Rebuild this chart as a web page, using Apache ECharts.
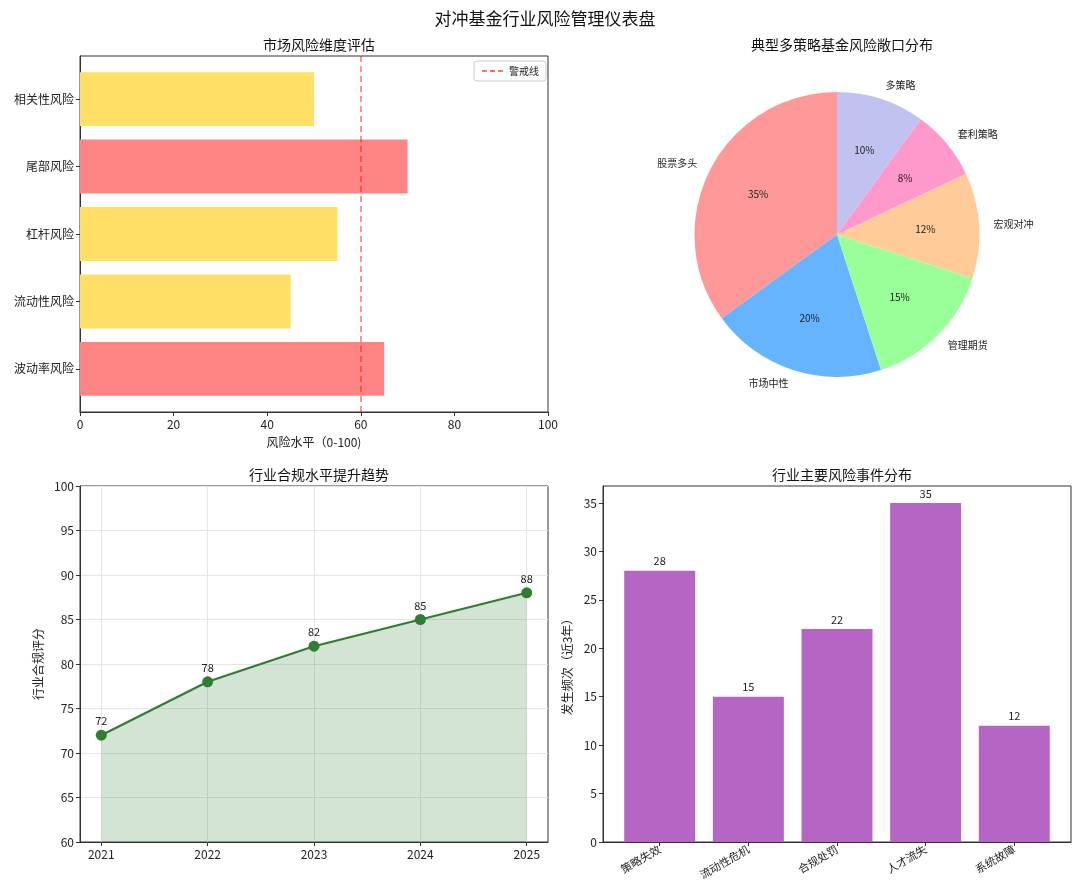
<!DOCTYPE html>
<html><head><meta charset="utf-8">
<script src="https://cdn.jsdelivr.net/npm/echarts@6/dist/echarts.min.js"></script>
<style>html,body{margin:0;padding:0;background:#fff}#c{width:1080px;height:895px}</style>
</head><body><div id="c"></div>
<script>
// ---- data ----
const riskCategories = ['波动率风险','流动性风险','杠杆风险','尾部风险','相关性风险'];
const riskValues = [65, 45, 55, 70, 50];
const warningLevel = 60;

const pieNames = ['股票多头','市场中性','管理期货','宏观对冲','套利策略','多策略'];
const pieValues = [35, 20, 15, 12, 8, 10];
const pieColors = ['#ff9999','#66b3ff','#99ff99','#ffcc99','#ff99cc','#c2c2f0'];

const years = [2021, 2022, 2023, 2024, 2025];
const complianceScores = [72, 78, 82, 85, 88];

const eventCategories = ['策略失效','流动性危机','合规处罚','人才流失','系统故障'];
const eventCounts = [28, 15, 22, 35, 12];
const eventTicks = [0, 5, 10, 15, 20, 25, 30, 35];

// ---- chart ----
const FONT = '"Noto Sans CJK SC", "Noto Sans", sans-serif';
const RED = '#ff8585', YEL = '#ffdf66';
const axisLineStyle = {show:true, onZero:false, lineStyle:{color:'#333', width:1}};
const tickStyle = {show:true, inside:false, length:4, lineStyle:{color:'#333'}};
const lblStyle = {color:'#222', fontSize:12, fontFamily:FONT};

const chart = echarts.init(document.getElementById('c'), null, {renderer:'canvas'});
const idx = riskCategories.map((_, i) => i);
const eIdx = eventCategories.map((_, i) => i);

const option = {
  backgroundColor:'#fff',
  textStyle:{fontFamily:FONT},
  title:[
    {text:'对冲基金行业风险管理仪表盘', left:540, top:5, textAlign:'center', textStyle:{fontSize:17, fontWeight:'normal', color:'#111', fontFamily:FONT}},
    {text:'市场风险维度评估', left:314, top:33, textAlign:'center', textStyle:{fontSize:14, fontWeight:'normal', color:'#111', fontFamily:FONT}},
    {text:'典型多策略基金风险敞口分布', left:837, top:33, textAlign:'center', textStyle:{fontSize:14, fontWeight:'normal', color:'#111', fontFamily:FONT}},
    {text:'行业合规水平提升趋势', left:314, top:463, textAlign:'center', textStyle:{fontSize:14, fontWeight:'normal', color:'#111', fontFamily:FONT}},
    {text:'行业主要风险事件分布', left:837, top:463, textAlign:'center', textStyle:{fontSize:14, fontWeight:'normal', color:'#111', fontFamily:FONT}}
  ],
  legend:{
    data:[{name:'警戒线'}], left:474, top:61, orient:'vertical',
    itemWidth:22, itemHeight:2, itemGap:4,
    borderColor:'#ccc', borderWidth:1, borderRadius:3, padding:[5,7,5,7],
    textStyle:{fontSize:10, color:'#222', fontFamily:FONT}
  },
  grid:[
    {left:80, top:56, width:468, height:356, show:true, borderColor:'#333', borderWidth:1, backgroundColor:'transparent'},
    {left:80, top:486, width:468, height:356, show:true, borderColor:'#333', borderWidth:1, backgroundColor:'transparent'},
    {left:603, top:486, width:468, height:356, show:true, borderColor:'#333', borderWidth:1, backgroundColor:'transparent'}
  ],
  xAxis:[
    {gridIndex:0, type:'value', min:0, max:100, interval:20, axisLine:axisLineStyle, axisTick:tickStyle,
     axisLabel:Object.assign({}, lblStyle, {margin:6}), splitLine:{show:false},
     name:'风险水平（0-100)', nameLocation:'middle', nameGap:24, nameTextStyle:{fontSize:12, color:'#222', fontFamily:FONT}},
    {gridIndex:1, type:'value', min:2020.8, max:2025.2, axisLine:axisLineStyle,
     axisTick:Object.assign({}, tickStyle, {customValues:years}),
     axisLabel:Object.assign({}, lblStyle, {customValues:years, margin:6, formatter:v => String(Math.round(v))}),
     splitLine:{show:true, lineStyle:{color:'#e5e5e5', width:1}}},
    {gridIndex:2, type:'value', min:-0.64, max:4.64, axisLine:axisLineStyle,
     axisTick:Object.assign({}, tickStyle, {customValues:eIdx}),
     axisLabel:Object.assign({}, lblStyle, {fontSize:11, customValues:eIdx, rotate:30, margin:6, formatter:v => eventCategories[Math.round(v)] || ''}),
     splitLine:{show:false}}
  ],
  yAxis:[
    {gridIndex:0, type:'value', min:-0.64, max:4.64, axisLine:axisLineStyle,
     axisTick:Object.assign({}, tickStyle, {customValues:idx}),
     axisLabel:Object.assign({}, lblStyle, {customValues:idx, margin:6, formatter:v => riskCategories[Math.round(v)] || ''}),
     splitLine:{show:false}},
    {gridIndex:1, type:'value', min:60, max:100, interval:5, axisLine:axisLineStyle, axisTick:tickStyle,
     axisLabel:Object.assign({}, lblStyle, {margin:6}),
     splitLine:{show:true, lineStyle:{color:'#e5e5e5', width:1}},
     name:'行业合规评分', nameLocation:'middle', nameGap:36, nameTextStyle:{fontSize:12, color:'#222', fontFamily:FONT}},
    {gridIndex:2, type:'value', min:0, max:36.75, axisLine:axisLineStyle,
     axisTick:Object.assign({}, tickStyle, {customValues:eventTicks}),
     axisLabel:Object.assign({}, lblStyle, {customValues:eventTicks, margin:6}), splitLine:{show:false},
     name:'发生频次（近3年）', nameLocation:'middle', nameGap:30, nameTextStyle:{fontSize:12, color:'#222', fontFamily:FONT}}
  ],
  series:[
    {type:'custom', xAxisIndex:0, yAxisIndex:0, silent:true,
     encode:{x:0, y:1},
     data:riskValues.map((v, i) => ({value:[v, i], itemStyle:{color: v > warningLevel ? RED : YEL}})),
     renderItem:(params, api) => {
       const v = api.value(0), i = api.value(1);
       const s = api.coord([0, i]), e = api.coord([v, i]);
       const h = api.size([0, 0.8])[1];
       return {type:'rect', shape:{x:s[0], y:s[1]-h/2, width:e[0]-s[0], height:h}, style:{fill:api.visual('color')}};
     }},
    {type:'line', name:'警戒线', xAxisIndex:0, yAxisIndex:0, data:[], symbol:'none',
     lineStyle:{color:'rgba(255,0,0,0.55)', type:[5,3], width:1.5}, itemStyle:{color:'rgba(255,0,0,0.55)'},
     markLine:{silent:true, symbol:'none', label:{show:false},
       lineStyle:{color:'rgba(255,0,0,0.55)', type:[6,4], width:1.5},
       data:[{xAxis:warningLevel}]}},
    {type:'pie', center:[837,234.5], radius:142.5, startAngle:90, clockwise:false, avoidLabelOverlap:false, silent:true,
     data:pieNames.map((n, i) => ({name:n, value:pieValues[i], itemStyle:{color:pieColors[i]}})),
     label:{show:true, position:'outside', fontSize:10, color:'#222', fontFamily:FONT, distanceToLabelLine:0, formatter:'{b}'},
     labelLine:{show:false, length:14.25, length2:0}},
    {type:'pie', center:[837,234.5], radius:171, startAngle:90, clockwise:false, avoidLabelOverlap:false, silent:true,
     data:pieNames.map((n, i) => ({name:n, value:pieValues[i], itemStyle:{color:'rgba(0,0,0,0)'}})),
     label:{show:true, position:'inside', fontSize:10, color:'#222', fontFamily:FONT,
       formatter:p => Math.round(p.percent) + '%'},
     labelLine:{show:false}},
    {type:'line', xAxisIndex:1, yAxisIndex:1, data:years.map((y, i) => [y, complianceScores[i]]),
     symbol:'circle', symbolSize:11, lineStyle:{color:'#2e7d32', width:2.2}, itemStyle:{color:'#2e7d32'},
     areaStyle:{color:'rgba(46,125,50,0.21)', opacity:1, origin:'start'},
     label:{show:true, position:'top', distance:3, fontSize:11, color:'#222', fontFamily:FONT, formatter:p => p.value[1]},
     silent:true},
    {type:'bar', xAxisIndex:2, yAxisIndex:2, barWidth:71,
     data:eventCounts.map((v, i) => [i, v]), itemStyle:{color:'#b565c3'},
     label:{show:true, position:'top', distance:4, fontSize:11, color:'#222', fontFamily:FONT, formatter:p => p.value[1]},
     silent:true}
  ]
};
chart.setOption(option);
</script>
</body></html>
